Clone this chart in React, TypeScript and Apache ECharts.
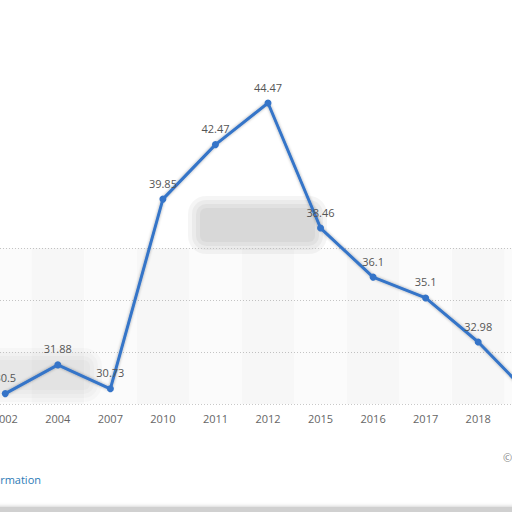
import { useEffect, useRef } from 'react';
import * as echarts from 'echarts';

// years shown on the x axis (the last one is cut off on the right)
const years = ['2002', '2004', '2007', '2010', '2011', '2012', '2015', '2016', '2017', '2018', '2019'];
// values
const values = [30.5, 31.88, 30.73, 39.85, 42.47, 44.47, 38.46, 36.1, 35.1, 32.98, 30.38];
// y range of the dotted grid
const yMin = 30;
const yMax = 37.5;
const yStep = 2.5;

// the chart is wider than the window and shifted left, so the first and last years are cut
const SHIFT = 21;

// soft grey blur patch, built from a few stacked translucent rects
const softPatch = (x: number, y: number, w: number, h: number, alpha: number) =>
  [0, 4, 8, 12].map((grow) => ({
    type: 'rect',
    z: -1,
    silent: true,
    shape: { x: x - grow, y: y - grow, width: w + grow * 2, height: h + grow * 2, r: 6 + grow },
    style: { fill: `rgba(0,0,0,${alpha})` },
  }));

const App: React.FC = () => {
  const chartRef = useRef<HTMLDivElement>(null);

  useEffect(() => {
    if (!chartRef.current) return;
    const chart = echarts.init(chartRef.current, undefined, { renderer: 'svg' });

    const option = {
      animation: false,
      backgroundColor: '#ffffff',
      textStyle: { fontFamily: 'Open Sans' },
      grid: { left: 0, right: 0, top: 248, bottom: 108 },
      xAxis: {
        type: 'category',
        data: years,
        boundaryGap: true,
        axisLine: { show: false },
        axisTick: { show: false },
        axisLabel: { color: '#666', fontSize: 11, margin: 9 },
        splitArea: {
          show: true,
          areaStyle: { color: ['rgba(0,0,0,0.015)', 'rgba(0,0,0,0.03)'] },
        },
      },
      yAxis: {
        type: 'value',
        min: yMin,
        max: yMax,
        interval: yStep,
        axisLabel: { show: false },
        axisLine: { show: false },
        axisTick: { show: false },
        splitLine: { lineStyle: { color: '#c8c8c8', type: [1, 2], width: 1 } },
      },
      graphic: [
        ...softPatch(200 + SHIFT, 208, 115, 34, 0.04),
        ...softPatch(-10 + SHIFT, 360, 100, 30, 0.018),
        {
          type: 'text',
          x: 41 + SHIFT,
          y: 479,
          style: {
            text: 'Additional Information',
            fill: '#2c7bb6',
            font: '11px "Open Sans"',
            textAlign: 'right',
            textVerticalAlign: 'middle',
          },
        },
        {
          type: 'text',
          x: 503 + SHIFT,
          y: 457,
          style: {
            text: '© Statista 2021',
            fill: '#888',
            font: '11px "Open Sans"',
            textAlign: 'left',
            textVerticalAlign: 'middle',
          },
        },
        {
          type: 'rect',
          shape: { x: 0, y: 507, width: 578, height: 5 },
          style: { fill: '#d0d0d0', shadowBlur: 4, shadowColor: 'rgba(0,0,0,0.25)' },
          silent: true,
        },
      ],
      series: [
        {
          type: 'line',
          data: values,
          clip: false,
          symbol: 'circle',
          symbolSize: 7,
          lineStyle: {
            color: '#3574c8',
            width: 3,
            shadowColor: 'rgba(0,0,0,0.35)',
            shadowBlur: 3,
          },
          itemStyle: { color: '#3574c8' },
          label: {
            show: true,
            position: 'top',
            distance: 7,
            color: '#555',
            fontSize: 11,
          },
        },
      ],
    };

    chart.setOption(option);
    return () => {
      chart.dispose();
    };
  }, []);

  return (
    <div
      style={{
        position: 'fixed',
        left: 0,
        top: 0,
        width: '512px',
        height: '512px',
        overflow: 'hidden',
        background: '#fff',
      }}
    >
      <div
        ref={chartRef}
        style={{ position: 'absolute', left: -SHIFT + 'px', top: 0, width: '578px', height: '512px' }}
      />
    </div>
  );
};

export default App;
